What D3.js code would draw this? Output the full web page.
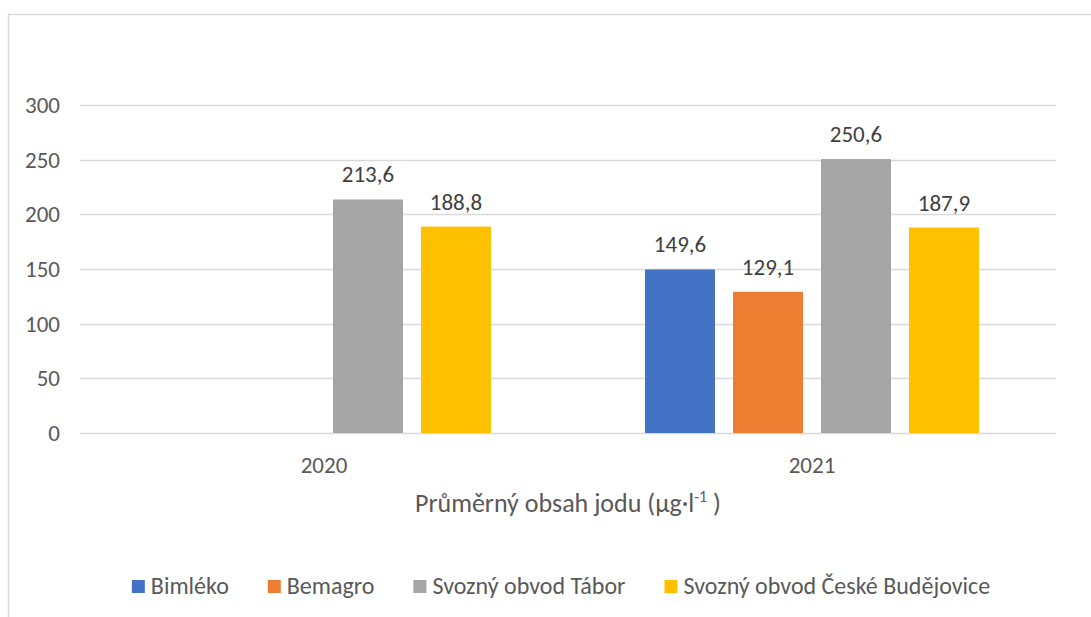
<!DOCTYPE html>
<html>
<head>
<meta charset="utf-8">
<script src="https://cdn.jsdelivr.net/npm/d3@7"></script>
<style>
  body { margin: 0; background: #fff; }
  svg { display: block; font-family: Carlito, Calibri, Lato, sans-serif; }
</style>
</head>
<body>
<div id="chart"></div>
<script>
// data
const years = ["2020", "2021"];
const seriesNames = ["Bimléko", "Bemagro", "Svozný obvod Tábor", "Svozný obvod České Budějovice"];
const seriesColors = ["#4472C4", "#ED7D31", "#A5A5A5", "#FFC000"];
const values2020 = [null, null, 213.6, 188.8];
const values2021 = [149.6, 129.1, 250.6, 187.9];
const yTicks = [0, 50, 100, 150, 200, 250, 300];

const W = 1091, H = 617;
const margin = { left: 80, right: 35, top: 105, bottom: 184 };
const innerW = W - margin.left - margin.right;
const innerH = H - margin.top - margin.bottom;
const textColor = "#595959";
const gridColor = "#d9d9d9";

const svg = d3.select("#chart").append("svg").attr("width", W).attr("height", H);

// chart frame (cut off at right and bottom in the original)
svg.append("rect")
  .attr("x", 8.5).attr("y", 14.5)
  .attr("width", W + 20).attr("height", H + 20)
  .attr("fill", "none").attr("stroke", gridColor).attr("stroke-width", 1.5);

const g = svg.append("g").attr("transform", `translate(${margin.left},${margin.top})`);

const y = d3.scaleLinear().domain([0, 300]).range([innerH, 0]);
const x0 = d3.scaleBand().domain(years).range([0, innerW]);
const x1 = d3.scaleBand().domain(seriesNames).range([0, x0.bandwidth()])
  .paddingInner(0.2045).paddingOuter(0.875);

// gridlines + tick labels
g.selectAll("line.grid").data(yTicks).join("line")
  .attr("class", "grid")
  .attr("x1", 0).attr("x2", innerW)
  .attr("y1", d => Math.round(y(d)) + 0.5).attr("y2", d => Math.round(y(d)) + 0.5)
  .attr("stroke", gridColor).attr("stroke-width", 1.5);

g.selectAll("text.ytick").data(yTicks).join("text")
  .attr("class", "ytick")
  .attr("x", -20).attr("y", d => y(d))
  .attr("dy", "0.35em")
  .attr("text-anchor", "end")
  .attr("font-size", 23).attr("fill", textColor)
  .text(d => d);

// category labels
g.selectAll("text.xtick").data(years).join("text")
  .attr("class", "xtick")
  .attr("x", d => x0(d) + x0.bandwidth() / 2)
  .attr("y", innerH + 40)
  .attr("text-anchor", "middle")
  .attr("font-size", 23).attr("fill", textColor)
  .text(d => d);

// bars
const rows = [values2020, values2021].map((vals, i) => ({
  year: years[i],
  items: seriesNames.map((s, j) => ({ series: s, value: vals[j], color: seriesColors[j] }))
    .filter(d => d.value != null)
}));

const groups = g.selectAll("g.year").data(rows).join("g")
  .attr("class", "year")
  .attr("transform", d => `translate(${x0(d.year)},0)`);

groups.selectAll("rect").data(d => d.items).join("rect")
  .attr("x", d => x1(d.series))
  .attr("y", d => y(d.value))
  .attr("width", x1.bandwidth())
  .attr("height", d => innerH - y(d.value))
  .attr("fill", d => d.color);

const fmt = v => d3.format(".1f")(v).replace(".", ",");
groups.selectAll("text.lbl").data(d => d.items).join("text")
  .attr("class", "lbl")
  .attr("x", d => x1(d.series) + x1.bandwidth() / 2)
  .attr("y", d => y(d.value) - 17)
  .attr("text-anchor", "middle")
  .attr("font-size", 23).attr("fill", "#404040")
  .text(d => fmt(d.value));

// axis title
const title = svg.append("text")
  .attr("x", margin.left + innerW / 2)
  .attr("y", 512)
  .attr("text-anchor", "middle")
  .attr("font-size", 26).attr("fill", textColor);
title.append("tspan").text("Průměrný obsah jodu (µg·l");
title.append("tspan").attr("font-size", 16).attr("dy", -10).text("-1");
title.append("tspan").attr("dy", 10).text(" )");

// legend
const legend = svg.append("g");
const items = legend.selectAll("g").data(seriesNames).join("g");
items.append("rect")
  .attr("y", -14).attr("width", 13).attr("height", 13)
  .attr("fill", (d, i) => seriesColors[i]);
items.append("text")
  .attr("x", 19).attr("y", 0)
  .attr("font-size", 24).attr("fill", textColor)
  .text(d => d);
let cx = 0;
items.each(function () {
  d3.select(this).attr("transform", `translate(${cx},0)`);
  cx += 19 + this.querySelector("text").getComputedTextLength() + 39;
});
const legendW = cx - 39;
legend.attr("transform", `translate(${561 - legendW / 2},594)`);
</script>
</body>
</html>
